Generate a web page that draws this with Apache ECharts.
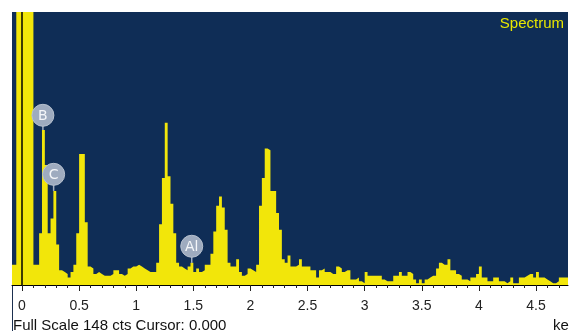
<!DOCTYPE html>
<html>
<head>
<meta charset="utf-8">
<script src="https://cdn.jsdelivr.net/npm/echarts@6/dist/echarts.min.js"></script>
<style>
  html, body { margin: 0; padding: 0; background: #fff; }
  #chart { width: 569px; height: 331px; }
</style>
</head>
<body>
<div id="chart"></div>
<script>
// EDS spectrum: channel calibration (keV) and counts per channel
const channelStart = -0.1;
const channelWidth = 0.025;
const counts = [
  11, 11, 1000, 1000, 1000, 1000, 1000, 1000, 11, 11,
  28, 84, 65, 28, 36, 51, 22, 8, 7, 6,
  4, 7, 11, 28, 71, 71, 34, 10, 9, 6,
  7, 6, 5, 5, 5, 6, 8, 8, 6, 5,
  6, 9, 10, 10, 11, 10, 9, 8, 7, 7,
  7, 12, 33, 58, 88, 59, 44, 28, 12, 10,
  9, 8, 10, 12, 7, 9, 7, 8, 11, 11,
  17, 29, 43, 48, 42, 30, 12, 10, 10, 14,
  7, 5, 6, 9, 8, 7, 11, 43, 58, 74,
  73, 51, 51, 39, 30, 14, 12, 16, 10, 10,
  11, 14, 10, 10, 10, 8, 8, 4, 8, 9,
  7, 7, 6, 6, 10, 9, 7, 8, 8, 3,
  3, 4, 2, 1, 7, 5, 5, 5, 5, 5,
  3, 2, 2, 2, 5, 5, 7, 5, 5, 7,
  6, 3, 1, 3, 1, 3, 4, 5, 5, 9,
  12, 11, 11, 14, 8, 8, 6, 5, 3, 3,
  2, 4, 4, 6, 10, 4, 4, 2, 2, 4,
  4, 2, 2, 1, 2, 4, 1, 1, 4, 4,
  5, 6, 6, 4, 7, 4, 4, 3, 2, 1,
  1, 2, 4, 4, 4, 4
];

// Element line markers
const elementNames = ['B', 'C', 'Al'];
const elementEnergies = [0.183, 0.277, 1.486];
const markerCounts = [92, 60, 21];
const markerStemEnds = [84, 51, 12];

// Axis ticks (keV)
const majorTicks = [0, 0.5, 1, 1.5, 2, 2.5, 3, 3.5, 4, 4.5];
const minorTicks = [];
for (let k = 0; k <= 47; k++) minorTicks.push(+(k / 10).toFixed(1));

const fullScale = 148;
const cursor = 0;

// step points at channel left edges, closed at the last channel's right edge
const spectrum = counts.map((c, i) => [channelStart + i * channelWidth, c]);
spectrum.push([channelStart + counts.length * channelWidth, counts[counts.length - 1]]);

const markers = elementNames.map((n, i) => [elementEnergies[i], markerCounts[i], markerStemEnds[i]]);

const xMin = -0.0875, xMax = 4.78;
const chart = echarts.init(document.getElementById('chart'), null, { renderer: 'canvas' });

chart.setOption({
  animation: false,
  backgroundColor: '#ffffff',
  grid: {
    left: 12, top: 12, right: 1, bottom: 46,
    show: true, backgroundColor: '#0f2d56', borderWidth: 0
  },
  xAxis: [
    {
      type: 'value', min: xMin, max: xMax, position: 'bottom',
      axisLine: { show: true, lineStyle: { color: '#000', width: 1 } },
      axisTick: { show: true, customValues: majorTicks, length: 6, lineStyle: { color: '#222' } },
      axisLabel: {
        customValues: majorTicks, color: '#222', fontSize: 14, margin: 14,
        fontFamily: 'Liberation Sans'
      },
      splitLine: { show: false }
    },
    {
      type: 'value', min: xMin, max: xMax, position: 'bottom',
      axisLine: { show: false },
      axisTick: { show: true, customValues: minorTicks, length: 3, lineStyle: { color: '#222' } },
      axisLabel: { show: false },
      splitLine: { show: false }
    }
  ],
  yAxis: { type: 'value', min: 0, max: fullScale, show: false },
  series: [
    {
      type: 'line',
      data: spectrum,
      step: 'end',
      symbol: 'none',
      clip: true,
      lineStyle: { width: 0, color: '#f2e60a' },
      areaStyle: { color: '#f2e60a', opacity: 1 },
      markLine: {
        silent: true,
        symbol: ['none', 'none'],
        label: { show: false },
        lineStyle: { color: '#000', width: 1.5, type: 'solid' },
        data: [{ xAxis: cursor }]
      },
      z: 2
    },
    {
      type: 'custom',
      data: markers,
      z: 5,
      renderItem: function (params, api) {
        const p = api.coord([api.value(0), api.value(1)]);
        const q = api.coord([api.value(0), api.value(2)]);
        return {
          type: 'group',
          children: [
            { type: 'line', shape: { x1: p[0], y1: p[1], x2: q[0], y2: q[1] },
              style: { stroke: '#a3b0c2', lineWidth: 1.5 } },
            { type: 'circle', shape: { cx: p[0], cy: p[1], r: 11 },
              style: { fill: '#9eabbf', stroke: '#b7c1cf', lineWidth: 1 } },
            { type: 'text', x: p[0], y: p[1] + 1,
              style: { text: elementNames[params.dataIndex], fill: '#f4f6f9',
                       align: 'center', verticalAlign: 'middle',
                       font: '14px "DejaVu Sans"' } }
          ]
        };
      }
    }
  ],
  graphic: [
    { type: 'line', shape: { x1: 12.5, y1: 285, x2: 12.5, y2: 331 },
      style: { stroke: '#1b2f4f', lineWidth: 1 } },
    { type: 'text', right: 5, top: 16,
      style: { text: 'Spectrum', fill: '#e8e600', font: '15px "Liberation Sans"' } },
    { type: 'text', left: 13, top: 318,
      style: { text: 'Full Scale ' + fullScale + ' cts Cursor: ' + cursor.toFixed(3),
               fill: '#111', font: '15px "Liberation Sans"' } },
    { type: 'text', left: 553, top: 318,
      style: { text: 'keV', fill: '#111', font: '15px "Liberation Sans"' } }
  ]
});
</script>
</body>
</html>
